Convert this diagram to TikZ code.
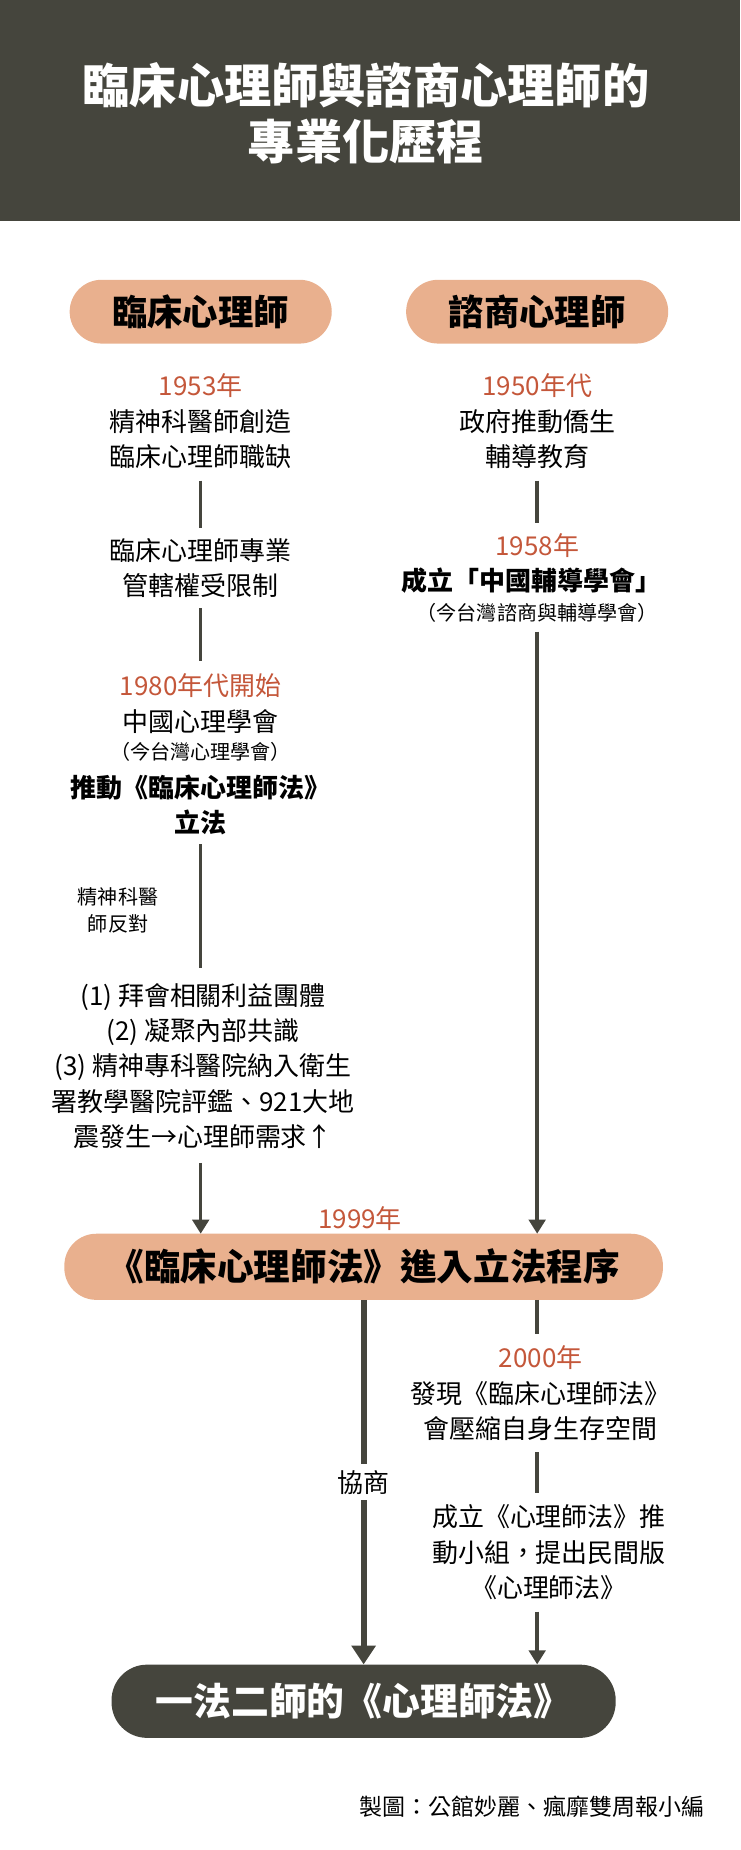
\documentclass[tikz,border=0pt]{standalone}
\usepackage{fontspec}
\setmainfont{Noto Sans CJK TC}
\usetikzlibrary{arrows.meta}
\definecolor{dk}{HTML}{45453D}
\definecolor{peach}{HTML}{E9B08E}
\definecolor{rd}{HTML}{C4573A}
\tikzset{
 x=1pt,y=-1pt,
 pill/.style={fill=peach,rounded corners=27pt,minimum height=54pt,font=\fontsize{30}{34}\selectfont\bfseries,text=black},
 tx/.style={align=center,font=\fontsize{22}{30}\selectfont,text=black,inner sep=1pt},
 yr/.style={font=\fontsize{22}{26}\selectfont,text=rd,inner sep=1pt},
 ln/.style={draw=dk,line width=3pt},
 ar/.style={ln,-{Triangle[length=12pt,width=14pt]}},
}
\begin{document}
\begin{tikzpicture}
\useasboundingbox (0,0) rectangle (627,1567);
\fill[dk] (0,0) rectangle (627,187);
\node[font=\fontsize{40}{48}\selectfont\bfseries,text=white,align=center] (title) at (310,96) {臨床心理師與諮商心理師的\\專業化歷程};
\node[pill,minimum width=222pt] (pL) at (170,264) {臨床心理師};
\node[pill,minimum width=222pt] (pR) at (455,264) {諮商心理師};
% left column
\node[yr] (y53) at (170,327) {1953年};
\node[tx] (a1) at (170,372) {精神科醫師創造\\臨床心理師職缺};
\node[tx] (a2) at (170,481) {臨床心理師專業\\管轄權受限制};
\node[yr] (y80) at (170,581) {1980年代開始};
\node[tx] (a3a) at (170,611) {中國心理學會};
\node[font=\fontsize{17}{20}\selectfont,inner sep=1pt] (a3b) at (170,637) {（今台灣心理學會）};
\node[tx,font=\fontsize{22}{30}\selectfont\bfseries] (a3) at (170,682) {推動《臨床心理師法》\\立法};
\node[align=center,font=\fontsize{17}{23}\selectfont,inner sep=1pt] (opp) at (100,771) {精神科醫\\師反對};
\node[tx,align=center] (a4) at (172,903) {(1) 拜會相關利益團體\\(2) 凝聚內部共識\\(3) 精神專科醫院納入衛生\\署教學醫院評鑑、921大地\\震發生→心理師需求↑};
% right column
\node[yr] (y50) at (455,327) {1950年代};
\node[tx] (b1) at (455,372) {政府推動僑生\\輔導教育};
\node[yr] (y58) at (455,462) {1958年};
\node[tx,font=\fontsize{22}{30}\selectfont\bfseries] (b2) at (450,492) {成立「中國輔導學會」};
\node[font=\fontsize{17}{20}\selectfont,inner sep=1pt] (b2b) at (455,519) {（今台灣諮商與輔導學會）};
% middle
\node[yr] (y99) at (305,1032) {1999年};
\node[pill,minimum width=507pt,minimum height=56pt,font=\fontsize{31}{34}\selectfont\bfseries] (mid) at (308,1073) {《臨床心理師法》進入立法程序};
\node[yr] (y00) at (458,1150) {2000年};
\node[tx] (c1) at (458,1195) {發現《臨床心理師法》\\會壓縮自身生存空間};
\node[tx] (c2) at (465,1315) {成立《心理師法》推\\動小組，提出民間版\\《心理師法》};
\node[fill=dk,rounded corners=30pt,minimum width=427pt,minimum height=62pt,text=white,font=\fontsize{32}{36}\selectfont\bfseries] (fin) at (308,1441) {一法二師的《心理師法》};
\node[font=\fontsize{19.5}{22}\selectfont,anchor=east,inner sep=0pt] (cred) at (597,1530) {製圖：公館妙麗、瘋靡雙周報小編};
% connectors
\coordinate (l1) at (170,407); \coordinate (l2) at (170,447);
\draw[ln] (l1) -- (l2);
\coordinate (l3) at (170,515); \coordinate (l4) at (170,560);
\draw[ln] (l3) -- (l4);
\coordinate (l5) at (170,715); \coordinate (l6) at (170,820);
\draw[ln] (l5) -- (l6);
\coordinate (l7) at (170,985);
\draw[ar] (l7) -- (170,1045);
\coordinate (r1) at (455,407); \coordinate (r2) at (455,443);
\draw[ln] (r1) -- (r2);
\coordinate (r3) at (455,535);
\draw[ar] (r3) -- (455,1045);
\coordinate (r4) at (455,1101); \coordinate (r5) at (455,1130);
\draw[ln] (r4) -- (r5);
\coordinate (r6) at (455,1230); \coordinate (r7) at (455,1265);
\draw[ln] (r6) -- (r7);
\coordinate (r8) at (455,1365);
\draw[ar] (r8) -- (fin.north -| r8);
\draw[draw=dk,line width=5pt,-{Triangle[length=16pt,width=20pt]}] (mid.south -| 308,0) -- node[fill=white,font=\fontsize{22}{26}\selectfont,inner sep=5pt] (neg) {協商} (fin.north);
\end{tikzpicture}
\end{document}
